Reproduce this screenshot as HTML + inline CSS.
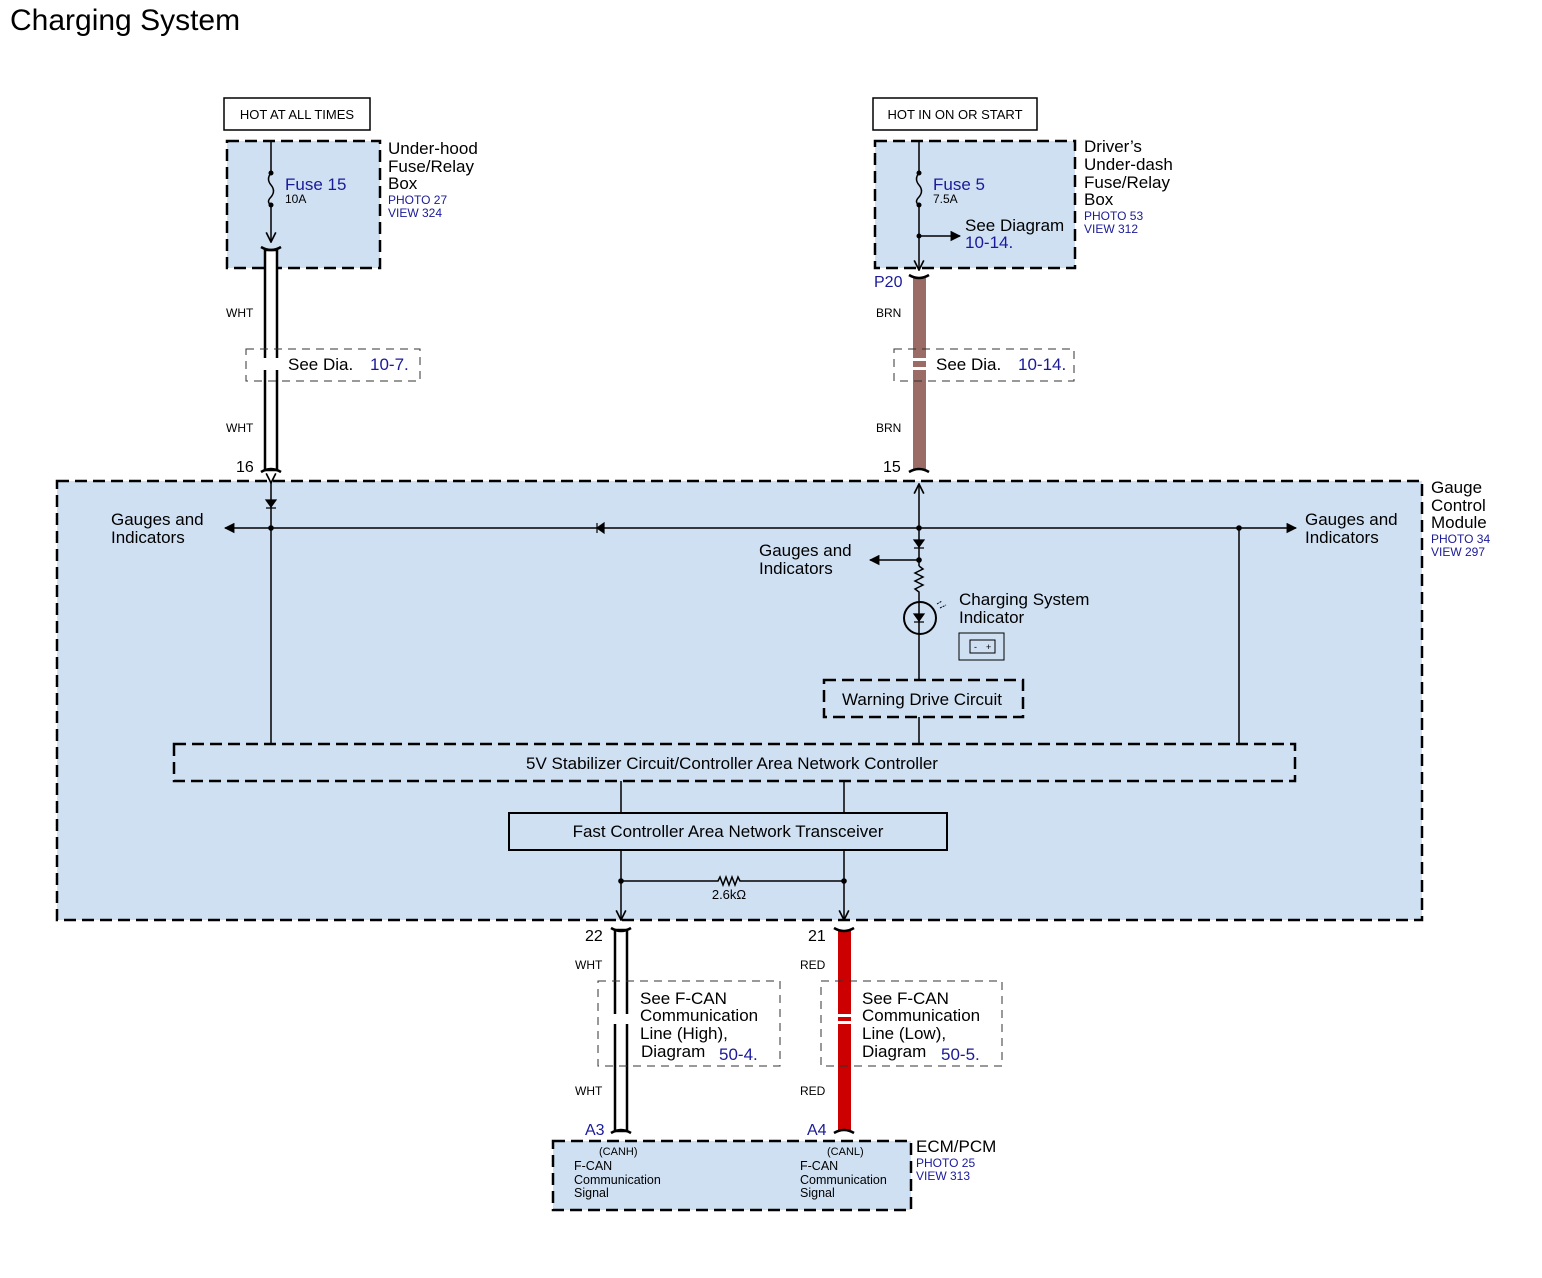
<!DOCTYPE html>
<html><head><meta charset="utf-8"><style>
html,body{margin:0;padding:0;background:#fff}
svg{display:block;font-family:"Liberation Sans",sans-serif}
.b{fill:#1a1a99}
</style></head><body>
<svg width="1542" height="1278" viewBox="0 0 1542 1278" xmlns="http://www.w3.org/2000/svg">
<defs>
<marker id="ah" viewBox="0 0 10 10" refX="9" refY="5" markerWidth="7" markerHeight="7" orient="auto"><path d="M0,0 L10,5 L0,10 z" fill="#000"/></marker>
<marker id="oa" viewBox="0 0 10 10" refX="9" refY="5" markerWidth="8" markerHeight="8" orient="auto"><path d="M1,1 L9,5 L1,9" fill="none" stroke="#000" stroke-width="1.4"/></marker>
</defs>
<text x="10" y="30" font-size="30">Charging System</text>

<!-- left top -->
<rect x="224" y="98" width="146" height="32" fill="#fff" stroke="#000" stroke-width="1.5"/>
<text x="297" y="119" font-size="13" text-anchor="middle">HOT AT ALL TIMES</text>
<rect x="227" y="141" width="153" height="127" fill="#cfe0f3" stroke="#000" stroke-width="2.5" stroke-dasharray="12,6"/>
<line x1="271" y1="141" x2="271" y2="173" stroke="#000" stroke-width="1.5"/>
<path d="M271,173 q-5,6 0,12 q5,6 0,12 q-5,5 0,8" fill="none" stroke="#000" stroke-width="1.5"/>
<circle cx="271" cy="173" r="2.5"/><circle cx="271" cy="205" r="2.5"/>
<line x1="271" y1="205" x2="271" y2="242" stroke="#000" stroke-width="1.5" marker-end="url(#oa)"/>
<text x="285" y="190" font-size="17" class="b">Fuse 15</text>
<text x="285" y="203" font-size="12">10A</text>
<text x="388" y="154" font-size="17">Under-hood</text>
<text x="388" y="172" font-size="17">Fuse/Relay</text>
<text x="388" y="189" font-size="17">Box</text>
<text x="388" y="204" font-size="12" class="b">PHOTO 27</text>
<text x="388" y="217" font-size="12" class="b">VIEW 324</text>
<rect x="265" y="250" width="12" height="220" fill="#fff" stroke="#000" stroke-width="2.5"/>
<path d="M261,247 q10,6 20,0 M261,472 q10,-6 20,0" fill="none" stroke="#000" stroke-width="2.5"/>
<text x="226" y="317" font-size="12">WHT</text>
<text x="226" y="432" font-size="12">WHT</text>
<rect x="246" y="349" width="174" height="32" fill="none" stroke="#333" stroke-dasharray="8,6"/>
<rect x="262" y="358" width="20" height="12" fill="#fff"/>
<text x="288" y="370" font-size="17">See  Dia.</text><text x="370" y="370" font-size="17" class="b">10-7.</text>
<text x="236" y="472" font-size="16">16</text>

<!-- right top -->
<rect x="873" y="98" width="164" height="32" fill="#fff" stroke="#000" stroke-width="1.5"/>
<text x="955" y="119" font-size="13" text-anchor="middle">HOT IN ON OR START</text>
<rect x="875" y="141" width="200" height="127" fill="#cfe0f3" stroke="#000" stroke-width="2.5" stroke-dasharray="12,6"/>
<line x1="919" y1="141" x2="919" y2="173" stroke="#000" stroke-width="1.5"/>
<path d="M919,173 q-5,6 0,12 q5,6 0,12 q-5,5 0,8" fill="none" stroke="#000" stroke-width="1.5"/>
<circle cx="919" cy="173" r="2.5"/><circle cx="919" cy="205" r="2.5"/><circle cx="919" cy="236" r="2.5"/>
<line x1="919" y1="205" x2="919" y2="270" stroke="#000" stroke-width="1.5" marker-end="url(#oa)"/>
<line x1="919" y1="236" x2="960" y2="236" stroke="#000" stroke-width="1.5" marker-end="url(#ah)"/>
<text x="933" y="190" font-size="17" class="b">Fuse 5</text>
<text x="933" y="203" font-size="12">7.5A</text>
<text x="965" y="231" font-size="17">See Diagram</text>
<text x="965" y="248" font-size="17" class="b">10-14.</text>
<text x="1084" y="152" font-size="17">Driver’s</text>
<text x="1084" y="170" font-size="17">Under-dash</text>
<text x="1084" y="188" font-size="17">Fuse/Relay</text>
<text x="1084" y="205" font-size="17">Box</text>
<text x="1084" y="220" font-size="12" class="b">PHOTO 53</text>
<text x="1084" y="233" font-size="12" class="b">VIEW 312</text>
<rect x="913" y="278" width="13" height="192" fill="#9b6b66"/>
<path d="M909,275 q10,6 20,0 M909,472 q10,-6 20,0" fill="none" stroke="#000" stroke-width="2.5"/>
<text x="874" y="287" font-size="16" class="b">P20</text>
<text x="876" y="317" font-size="12">BRN</text>
<text x="876" y="432" font-size="12">BRN</text>
<rect x="894" y="349" width="180" height="32" fill="none" stroke="#333" stroke-dasharray="8,6"/>
<rect x="908" y="358" width="24" height="12" fill="#fff"/><rect x="913" y="361" width="13" height="6" fill="#9b6b66"/>
<text x="936" y="370" font-size="17">See  Dia.</text><text x="1018" y="370" font-size="17" class="b">10-14.</text>
<text x="883" y="472" font-size="16">15</text>

<!-- gauge module -->
<rect x="57" y="481" width="1365" height="439" fill="#cfe0f3" stroke="#000" stroke-width="2.5" stroke-dasharray="12,6"/>
<text x="1431" y="493" font-size="17">Gauge</text>
<text x="1431" y="511" font-size="17">Control</text>
<text x="1431" y="528" font-size="17">Module</text>
<text x="1431" y="543" font-size="12" class="b">PHOTO 34</text>
<text x="1431" y="556" font-size="12" class="b">VIEW 297</text>
<line x1="271" y1="528" x2="225" y2="528" stroke="#000" stroke-width="1.5" marker-end="url(#ah)"/>
<line x1="271" y1="528" x2="1296" y2="528" stroke="#000" stroke-width="1.5" marker-end="url(#ah)"/>
<path d="M597,528 l7,-5 v10 z M597,523 v10" stroke="#000" stroke-width="1.2"/>
<line x1="271" y1="483" x2="271" y2="744" stroke="#000" stroke-width="1.5" marker-start="url(#oa)"/>
<path d="M266,500 h10 l-5,7 z M266,508 h10" stroke="#000" stroke-width="1.2"/>
<line x1="1239" y1="528" x2="1239" y2="744" stroke="#000" stroke-width="1.5"/>
<circle cx="271" cy="528" r="2.8"/><circle cx="919" cy="528" r="2.8"/><circle cx="1239" cy="528" r="2.8"/>
<text x="111" y="525" font-size="17">Gauges and</text><text x="111" y="543" font-size="17">Indicators</text>
<text x="1305" y="525" font-size="17">Gauges and</text><text x="1305" y="543" font-size="17">Indicators</text>
<line x1="919" y1="528" x2="919" y2="484" stroke="#000" stroke-width="1.5" marker-end="url(#oa)"/>
<line x1="919" y1="528" x2="919" y2="566" stroke="#000" stroke-width="1.5"/>
<path d="M914,540 h10 l-5,7 z M914,548 h10" stroke="#000" stroke-width="1.2"/>
<circle cx="919" cy="560" r="2.8"/>
<line x1="919" y1="560" x2="870" y2="560" stroke="#000" stroke-width="1.5" marker-end="url(#ah)"/>
<path d="M919,566 l4,3 l-8,4 l8,4 l-8,4 l8,4 l-8,4 l4,3 v8" fill="none" stroke="#000" stroke-width="1.5"/>
<circle cx="920" cy="618" r="16" fill="none" stroke="#000" stroke-width="2"/>
<line x1="919" y1="600" x2="919" y2="680" stroke="#000" stroke-width="1.5"/>
<path d="M914,614 h10 l-5,7 z M914,622 h10" stroke="#000" stroke-width="1.2"/>
<path d="M937,604 l5,-3 M940,608 l6,-3" stroke="#000" stroke-width="1" stroke-dasharray="2,1"/>
<text x="759" y="556" font-size="17">Gauges and</text><text x="759" y="574" font-size="17">Indicators</text>
<text x="959" y="605" font-size="17">Charging System</text><text x="959" y="623" font-size="17">Indicator</text>
<rect x="959" y="633" width="45" height="27" fill="none" stroke="#000"/>
<rect x="970" y="640" width="25" height="13" fill="none" stroke="#000"/>
<text x="974" y="650" font-size="9">-</text><text x="986" y="650" font-size="9">+</text>
<rect x="824" y="680" width="199" height="37" fill="none" stroke="#000" stroke-width="2.5" stroke-dasharray="12,6"/>
<text x="922" y="705" font-size="17" text-anchor="middle">Warning Drive Circuit</text>
<line x1="919" y1="717" x2="919" y2="744" stroke="#000" stroke-width="1.5"/>
<rect x="174" y="744" width="1121" height="37" fill="none" stroke="#000" stroke-width="2.5" stroke-dasharray="12,6"/>
<text x="732" y="769" font-size="17" text-anchor="middle">5V Stabilizer Circuit/Controller Area Network Controller</text>
<line x1="621" y1="781" x2="621" y2="813" stroke="#000" stroke-width="1.5"/>
<line x1="844" y1="781" x2="844" y2="813" stroke="#000" stroke-width="1.5"/>
<rect x="509" y="813" width="438" height="37" fill="none" stroke="#000" stroke-width="2"/>
<text x="728" y="837" font-size="17" text-anchor="middle">Fast Controller Area Network Transceiver</text>
<line x1="621" y1="850" x2="621" y2="920" stroke="#000" stroke-width="1.5" marker-end="url(#oa)"/>
<line x1="844" y1="850" x2="844" y2="920" stroke="#000" stroke-width="1.5" marker-end="url(#oa)"/>
<path d="M621,881 H718 l2,-4 l3,8 l3,-8 l3,8 l3,-8 l3,8 l3,-8 l2,4 H844" fill="none" stroke="#000" stroke-width="1.5"/>
<circle cx="621" cy="881" r="2.8"/><circle cx="844" cy="881" r="2.8"/>
<text x="729" y="899" font-size="13" text-anchor="middle">2.6kΩ</text>

<!-- lower wires -->
<rect x="615" y="930" width="12" height="201" fill="#fff" stroke="#000" stroke-width="2.5"/>
<path d="M611,928 q10,6 20,0 M611,1133 q10,-6 20,0" fill="none" stroke="#000" stroke-width="2.5"/>
<rect x="838" y="930" width="13" height="201" fill="#cc0000"/>
<path d="M834,928 q10,6 20,0 M834,1133 q10,-6 20,0" fill="none" stroke="#000" stroke-width="2.5"/>
<text x="585" y="941" font-size="16">22</text><text x="808" y="941" font-size="16">21</text>
<text x="575" y="969" font-size="12">WHT</text><text x="800" y="969" font-size="12">RED</text>
<text x="575" y="1095" font-size="12">WHT</text><text x="800" y="1095" font-size="12">RED</text>
<rect x="598" y="981" width="182" height="85" fill="none" stroke="#333" stroke-dasharray="8,6"/>
<rect x="821" y="981" width="181" height="85" fill="none" stroke="#333" stroke-dasharray="8,6"/>
<rect x="610" y="1014" width="24" height="10" fill="#fff"/>
<rect x="833" y="1014" width="24" height="10" fill="#fff"/><rect x="838" y="1017" width="13" height="4" fill="#cc0000"/>
<text x="640" y="1004" font-size="17">See F-CAN</text><text x="640" y="1021" font-size="17">Communication</text>
<text x="640" y="1039" font-size="17">Line (High),</text><text x="641" y="1057" font-size="17">Diagram</text>
<text x="719" y="1060" font-size="17" class="b">50-4.</text>
<text x="862" y="1004" font-size="17">See F-CAN</text><text x="862" y="1021" font-size="17">Communication</text>
<text x="862" y="1039" font-size="17">Line (Low),</text><text x="862" y="1057" font-size="17">Diagram</text>
<text x="941" y="1060" font-size="17" class="b">50-5.</text>
<text x="585" y="1135" font-size="16" class="b">A3</text><text x="807" y="1135" font-size="16" class="b">A4</text>
<rect x="553" y="1141" width="358" height="69" fill="#cfe0f3" stroke="#000" stroke-width="2.5" stroke-dasharray="12,6"/>
<text x="599" y="1155" font-size="11">(CANH)</text><text x="827" y="1155" font-size="11">(CANL)</text>
<text x="574" y="1170" font-size="12.5">F-CAN</text><text x="574" y="1184" font-size="12.5">Communication</text><text x="574" y="1197" font-size="12.5">Signal</text>
<text x="800" y="1170" font-size="12.5">F-CAN</text><text x="800" y="1184" font-size="12.5">Communication</text><text x="800" y="1197" font-size="12.5">Signal</text>
<text x="916" y="1152" font-size="17">ECM/PCM</text>
<text x="916" y="1167" font-size="12" class="b">PHOTO 25</text>
<text x="916" y="1180" font-size="12" class="b">VIEW 313</text>
</svg>
</body></html>
